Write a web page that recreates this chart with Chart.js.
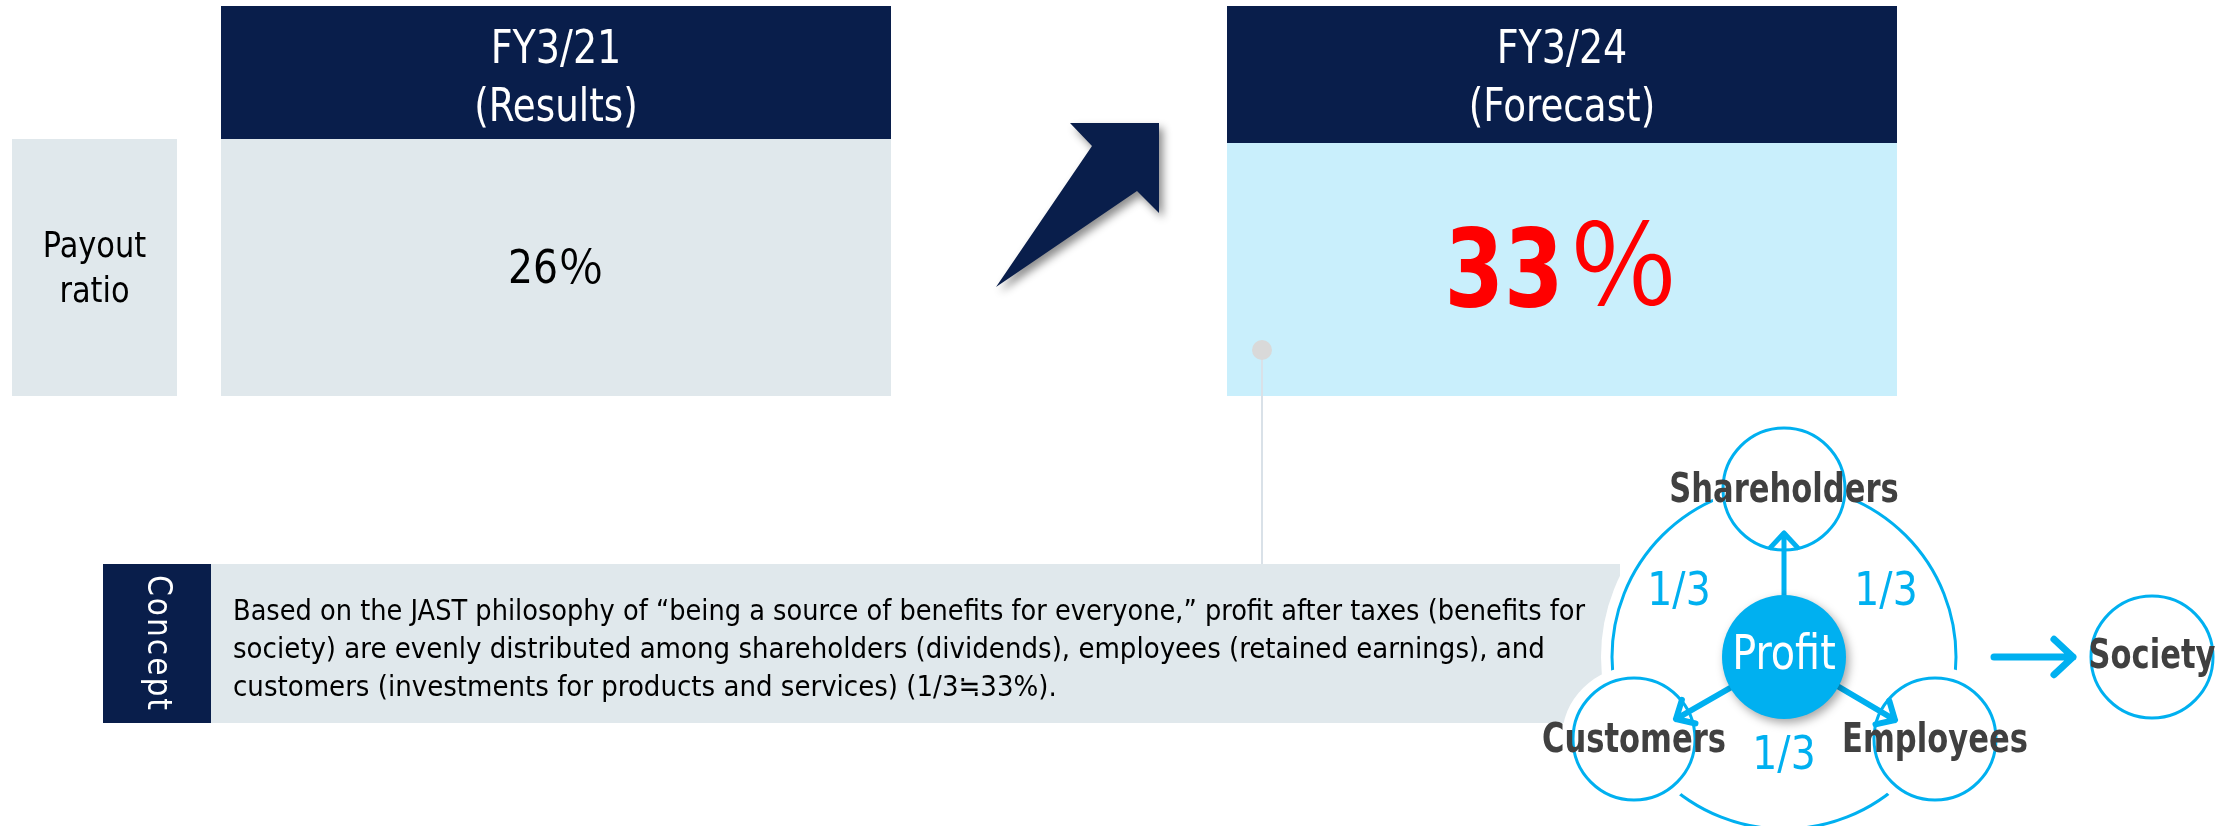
<!DOCTYPE html>
<html>
<head>
<meta charset="utf-8">
<script src="https://cdn.jsdelivr.net/npm/chart.js@4/dist/chart.umd.min.js"></script>
<style>
  html, body { margin: 0; padding: 0; background: #ffffff; }
  canvas { display: block; }
</style>
</head>
<body>
<canvas id="payout" width="2229" height="826"></canvas>
<script>
// ---- data ----
const periods = ['FY3/21', 'FY3/24'];
const periodNotes = ['(Results)', '(Forecast)'];
const payoutRatios = [26, 33];
const rowLabel = ['Payout', 'ratio'];
const stakeholders = ['Shareholders', 'Customers', 'Employees'];
const shares = ['1/3', '1/3', '1/3'];
const centreLabel = 'Profit';
const outcomeLabel = 'Society';
const conceptTitle = 'Concept';
const conceptLines = [
  'Based on the JAST philosophy of \u201Cbeing a source of benefits for everyone,\u201D profit after taxes (benefits for',
  'society) are evenly distributed among shareholders (dividends), employees (retained earnings), and',
  'customers (investments for products and services) (1/3\u225233%).'
];

// ---- layout (in 2229 x 826 units) ----
const W = 2229, H = 826;
const NAVY = '#091e4b', GREY = '#e0e8ec', SKY = '#c9effc', CYAN = '#00b0f0', RED = '#ff0000', INK = '#404040';
const FONT = "'Liberation Sans Narrow', 'DejaVu Sans Condensed', 'Noto Sans CJK JP', sans-serif";
const CJK = "'Noto Sans CJK JP', sans-serif";

const columns = [
  { x0: 221, x1: 891, headBottom: 139, body: GREY },
  { x0: 1227, x1: 1897, headBottom: 143, body: SKY }
];
const rowBox = { x0: 12, x1: 177, y0: 139, y1: 396 };
const conceptBox = { x0: 103, split: 211, x1: 1620, y0: 564, y1: 723 };
const ring = { x: 1784, y: 657, r: 172 };
const nodes = [
  { x: 1784, y: 489 },   // shareholders
  { x: 1634, y: 739 },   // customers
  { x: 1935, y: 739 }    // employees
];
const profitNode = { x: 1784, y: 657, r: 62 };
const societyNode = { x: 2152, y: 657 };
const nodeR = 61;

const infographic = {
  id: 'infographic',
  afterDraw(chart) {
    const c = chart.ctx;
    const sx = chart.scales.x, sy = chart.scales.y;
    const X = v => sx.getPixelForValue(v);
    const Y = v => sy.getPixelForValue(v);
    const R = v => Math.abs(sx.getPixelForValue(v) - sx.getPixelForValue(0));

    // text with a horizontal squeeze, to get closer to the narrow original face
    const text = (s, x, y, font, color, squeeze = 1) => {
      c.save();
      c.translate(X(x), Y(y));
      c.scale(squeeze, 1);
      c.font = font;
      c.fillStyle = color;
      c.textAlign = 'center';
      c.textBaseline = 'middle';
      c.fillText(s, 0, 0);
      c.restore();
    };
    const rect = (x0, y0, x1, y1, color) => {
      c.fillStyle = color;
      c.fillRect(X(x0), Y(y0), X(x1) - X(x0), Y(y1) - Y(y0));
    };
    const arrow = (x1, y1, x2, y2, width, head) => {
      const a = Math.atan2(Y(y2) - Y(y1), X(x2) - X(x1));
      c.save();
      c.strokeStyle = CYAN;
      c.lineWidth = width;
      c.lineCap = 'round';
      c.lineJoin = 'round';
      c.beginPath();
      c.moveTo(X(x1), Y(y1));
      c.lineTo(X(x2), Y(y2));
      c.moveTo(X(x2) - head * Math.cos(a - 0.75), Y(y2) - head * Math.sin(a - 0.75));
      c.lineTo(X(x2), Y(y2));
      c.lineTo(X(x2) - head * Math.cos(a + 0.75), Y(y2) - head * Math.sin(a + 0.75));
      c.stroke();
      c.restore();
    };
    const ringShape = (x, y, r, fill) => {
      c.save();
      c.beginPath();
      c.arc(X(x), Y(y), R(r), 0, Math.PI * 2);
      if (fill) { c.fillStyle = '#ffffff'; c.fill(); }
      c.strokeStyle = '#ffffff';
      c.lineWidth = 22;
      c.stroke();
      c.strokeStyle = CYAN;
      c.lineWidth = 3;
      c.stroke();
      c.restore();
    };
    // number in one face followed by a full-width percent sign
    const percent = (value, cx, baseY, numFont, pctFont, color, squeeze, gap) => {
      c.save();
      c.font = numFont;
      const w1 = c.measureText(String(value)).width * squeeze;
      c.font = pctFont;
      const w2 = c.measureText('\uFF05').width;
      const left = X(cx) - (w1 + gap + w2) / 2;
      c.textBaseline = 'alphabetic';
      c.textAlign = 'left';
      c.fillStyle = color;
      c.translate(left, Y(baseY));
      c.save();
      c.scale(squeeze, 1);
      c.font = numFont;
      c.fillText(String(value), 0, 0);
      c.restore();
      c.font = pctFont;
      c.fillText('\uFF05', w1 + gap, 0);
      c.restore();
    };

    // row label
    rect(rowBox.x0, rowBox.y0, rowBox.x1, rowBox.y1, GREY);
    rowLabel.forEach((s, i) => text(s, (rowBox.x0 + rowBox.x1) / 2, 248 + i * 45, '36px ' + FONT, '#000000', 0.94));

    // period columns
    columns.forEach((col, i) => {
      rect(col.x0, 6, col.x1, col.headBottom, NAVY);
      rect(col.x0, col.headBottom, col.x1, 396, col.body);
      const cx = (col.x0 + col.x1) / 2;
      text(periods[i], cx, 51, '46px ' + FONT, '#ffffff', 0.92);
      text(periodNotes[i], cx, 109, '46px ' + FONT, '#ffffff', 0.9);
    });

    percent(payoutRatios[0], (columns[0].x0 + columns[0].x1) / 2, 283, '46px ' + FONT, '46px ' + CJK, '#000000', 0.95, 0);
    percent(payoutRatios[1], (columns[1].x0 + columns[1].x1) / 2, 306, 'bold 108px ' + FONT, '112px ' + CJK, RED, 0.88, 4);

    // rising arrow with shadow
    c.save();
    c.shadowColor = 'rgba(0,0,0,0.45)';
    c.shadowBlur = 8;
    c.shadowOffsetX = 4;
    c.shadowOffsetY = 5;
    c.fillStyle = NAVY;
    c.beginPath();
    [[1070, 123], [1159, 123], [1159, 213], [1137, 191], [996, 287], [1092, 146]].forEach((p, i) => {
      if (i === 0) c.moveTo(X(p[0]), Y(p[1])); else c.lineTo(X(p[0]), Y(p[1]));
    });
    c.closePath();
    c.fill();
    c.restore();

    // connector from forecast box to concept
    c.save();
    c.strokeStyle = '#d9e1e8';
    c.lineWidth = 2;
    c.beginPath();
    c.moveTo(X(1262), Y(350));
    c.lineTo(X(1262), Y(conceptBox.y0));
    c.stroke();
    c.fillStyle = '#d9d9d9';
    c.beginPath();
    c.arc(X(1262), Y(350), R(10), 0, Math.PI * 2);
    c.fill();
    c.restore();

    // concept box
    rect(conceptBox.x0, conceptBox.y0, conceptBox.split, conceptBox.y1, NAVY);
    rect(conceptBox.split, conceptBox.y0, conceptBox.x1, conceptBox.y1, GREY);
    c.save();
    c.translate(X((conceptBox.x0 + conceptBox.split) / 2), Y((conceptBox.y0 + conceptBox.y1) / 2));
    c.rotate(Math.PI / 2);
    c.font = '33px ' + FONT;
    c.letterSpacing = '2px';
    c.fillStyle = '#ffffff';
    c.textAlign = 'center';
    c.textBaseline = 'middle';
    c.fillText(conceptTitle, 0, 0);
    c.restore();
    c.save();
    c.font = '29px ' + FONT;
    c.fillStyle = '#000000';
    c.textAlign = 'left';
    c.textBaseline = 'middle';
    conceptLines.forEach((s, i) => c.fillText(s, X(233), Y(612 + i * 38), R(1352)));
    c.restore();

    // distribution diagram
    ringShape(ring.x, ring.y, ring.r, true);
    nodes.forEach(n => ringShape(n.x, n.y, nodeR, true));
    ringShape(societyNode.x, societyNode.y, nodeR, true);

    arrow(1784, 597, 1784, 533, 5, 20);
    arrow(1730, 688, 1676, 719, 6, 20);
    arrow(1839, 687, 1895, 720, 6, 20);
    arrow(1994, 657, 2073, 657, 7, 26);

    c.save();
    c.shadowColor = 'rgba(0,0,0,0.35)';
    c.shadowBlur = 10;
    c.shadowOffsetX = 3;
    c.shadowOffsetY = 4;
    c.fillStyle = CYAN;
    c.beginPath();
    c.arc(X(profitNode.x), Y(profitNode.y), R(profitNode.r), 0, Math.PI * 2);
    c.fill();
    c.restore();
    text(centreLabel, profitNode.x, profitNode.y, '48px ' + FONT, '#ffffff', 0.92);

    const bold = 'bold 40px ' + FONT;
    text(stakeholders[0], nodes[0].x, 492, bold, INK, 0.85);
    text(stakeholders[1], nodes[1].x, 742, bold, INK, 0.85);
    text(stakeholders[2], nodes[2].x, 742, bold, INK, 0.85);
    text(outcomeLabel, societyNode.x, 658, bold, INK, 0.85);

    text(shares[0], 1679, 593, '46px ' + FONT, CYAN, 0.95);
    text(shares[1], 1886, 593, '46px ' + FONT, CYAN, 0.95);
    text(shares[2], 1784, 757, '46px ' + FONT, CYAN, 0.95);
  }
};

new Chart(document.getElementById('payout').getContext('2d'), {
  type: 'scatter',
  data: { datasets: [{ data: [] }] },
  options: {
    responsive: false,
    animation: false,
    events: [],
    layout: { padding: 0 },
    plugins: { legend: { display: false }, tooltip: { enabled: false } },
    scales: {
      x: { type: 'linear', display: false, min: 0, max: W },
      y: { type: 'linear', display: false, min: 0, max: H, reverse: true }
    }
  },
  plugins: [infographic]
});
</script>
</body>
</html>
